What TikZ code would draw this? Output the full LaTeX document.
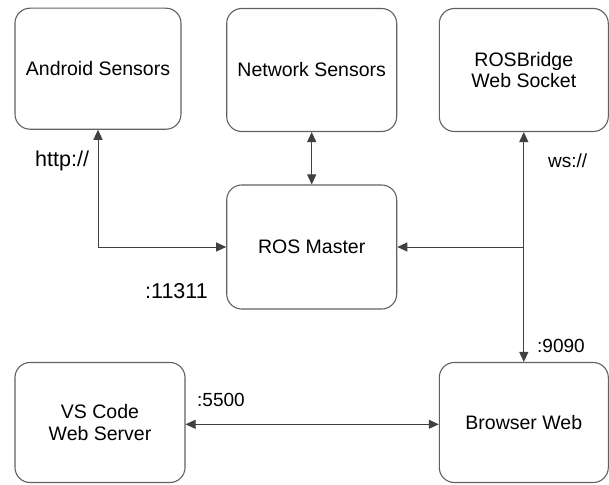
\documentclass[tikz,border=0pt]{standalone}
\usepackage{fontspec}
\setmainfont{Liberation Sans}
\usetikzlibrary{arrows.meta}
\begin{document}
\begin{tikzpicture}[x=1pt,y=-1pt,
  box/.style={draw=black!62, line width=1.1pt, rounded corners=15pt, inner sep=0pt,
    align=center, font=\fontsize{19.5}{21.7}\selectfont, text=black},
  lbl/.style={inner sep=0pt, anchor=base west, font=\fontsize{19}{21}\selectfont},
  biglbl/.style={inner sep=0pt, anchor=base west, font=\fontsize{21.5}{24}\selectfont},
  conn/.style={draw=black!75, line width=1pt},
  tipend/.style={conn, -{Triangle[length=10pt,width=9pt]}},
  tipboth/.style={conn, {Triangle[length=10pt,width=9pt]}-{Triangle[length=10pt,width=9pt]}}]
\useasboundingbox (0,0) rectangle (609,484);
\node[box, minimum width=166pt, minimum height=121pt] (android) at (98,68.7) {Android Sensors};
\node[box, minimum width=170pt, minimum height=123pt] (network) at (311.7,70) {Network Sensors};
\node[box, minimum width=169pt, minimum height=123pt] (rosbridge) at (523.8,70) {ROSBridge\\Web Socket};
\node[box, minimum width=170pt, minimum height=124pt] (master) at (311.7,247) {ROS Master};
\node[box, minimum width=170pt, minimum height=120pt] (vscode) at (100,422.5) {VS Code\\Web Server};
\node[box, minimum width=169pt, minimum height=120pt] (browser) at (523.8,422.5) {Browser Web};

\draw[tipboth] (android.south) |- (master.west);
\draw[tipboth] (network.south) -- (master.north);
\draw[tipboth] (rosbridge.south) -- (browser.north);
\coordinate (junction) at (rosbridge.south |- master.east);
\draw[tipend] (junction) -- (master.east);
\draw[tipboth] ([yshift=-1.8pt]vscode.east) -- ([yshift=-1.8pt]browser.west);

\node[biglbl] (http) at (35,166.7) {http://};
\node[lbl] (ws) at (548,167) {ws://};
\node[biglbl] (p11311) at (145,298.3) {:11311};
\node[lbl] (p9090) at (537,352.7) {:9090};
\node[lbl] (p5500) at (197,406.7) {:5500};
\end{tikzpicture}
\end{document}
